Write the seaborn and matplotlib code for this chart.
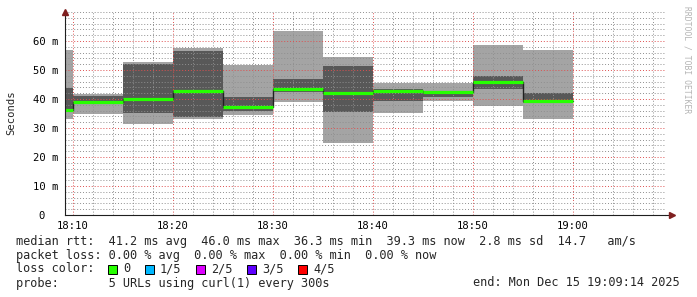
import matplotlib
matplotlib.use("Agg")
import matplotlib.pyplot as plt
from matplotlib.patches import Rectangle
from matplotlib.ticker import FixedLocator, MultipleLocator
import seaborn as sns
import pandas as pd

# ---- data (ms), one 5-minute slot each ----
slot_start = ["18:05", "18:10", "18:15", "18:20", "18:25", "18:30",
              "18:35", "18:40", "18:45", "18:50", "18:55"]
ping_min = [33.1, 34.9, 31.4, 33.1, 34.5, 39.1, 24.9, 35.3, 39.4, 37.7, 33.2]
ping_2nd = [35.7, 38.3, 35.3, 33.7, 35.9, 42.4, 35.6, 39.2, 40.8, 43.6, 38.6]
median = [36.3, 39.0, 40.0, 42.6, 37.1, 43.6, 41.9, 42.8, 42.5, 46.0, 39.3]
ping_4th = [43.8, 40.9, 52.2, 56.6, 40.7, 47.0, 51.4, 43.3, 42.9, 47.9, 42.1]
ping_max = [56.9, 41.7, 52.6, 57.7, 51.8, 63.6, 54.6, 45.6, 45.6, 58.6, 56.9]

x_ticklabels = ["18:10", "18:20", "18:30", "18:40", "18:50", "19:00"]
y_ticklabels = ["0  ", "10 m", "20 m", "30 m", "40 m", "50 m", "60 m"]

legend_lines = [
    "median rtt:  41.2 ms avg  46.0 ms max  36.3 ms min  39.3 ms now  2.8 ms sd  14.7   am/s",
    "packet loss: 0.00 % avg  0.00 % max  0.00 % min  0.00 % now",
]
loss_labels = ["0", "1/5", "2/5", "3/5", "4/5"]
loss_colors = ["#26ff00", "#00b8ff", "#dd00ff", "#5e00ff", "#ff0000"]
probe_text = "probe:       5 URLs using curl(1) every 300s"
end_text = "end: Mon Dec 15 19:09:14 2025"

SLOT = 5  # minutes per slot
view_start = 9 + 14 / 60.0   # 18:09:14
view_end = 69 + 14 / 60.0    # 19:09:14


def to_min(s):
    h, m = s.split(":")
    return (int(h) - 18) * 60 + int(m)


starts = [to_min(s) for s in slot_start]
ends = [s + SLOT for s in starts]
x_ext = starts + [ends[-1]]


def ext(v):
    return list(v) + [v[-1]]


df = pd.DataFrame({"t": x_ext, "median": ext(median)})

sns.set_style("white")
plt.rcParams["font.family"] = ["DejaVu Sans Mono", "DejaVu Sans"]

W, H = 697, 297
fig = plt.figure(figsize=(W / 100, H / 100), dpi=100)
fig.patch.set_facecolor("white")
ax = fig.add_axes([65.3 / W, 82 / H, 600 / W, 203 / H])
ax.set_facecolor("white")

light = "#a4a4a4"
dark = "#585858"
ax.fill_between(x_ext, ext(ping_min), ext(ping_max), step="post",
                color=light, lw=0, zorder=1)
ax.fill_between(x_ext, ext(ping_2nd), ext(ping_4th), step="post",
                color=dark, lw=0, zorder=1.1)

sns.lineplot(data=df, x="t", y="median", drawstyle="steps-post",
             color="#202020", lw=1.0, estimator=None, ax=ax, zorder=3)
ax.hlines(median, starts, ends, color=loss_colors[0], lw=2.3, zorder=4)

ax.set_xlim(view_start, view_end)
ax.set_ylim(0, 70)

ax.xaxis.set_major_locator(FixedLocator([10, 20, 30, 40, 50, 60]))
ax.set_xticklabels(x_ticklabels)
ax.xaxis.set_minor_locator(MultipleLocator(2))
ax.yaxis.set_major_locator(FixedLocator([0, 10, 20, 30, 40, 50, 60]))
ax.set_yticklabels(y_ticklabels)
ax.yaxis.set_minor_locator(MultipleLocator(2))

ax.set_axisbelow(False)
ax.grid(which="minor", color=(0.56, 0.56, 0.56, 0.28), lw=0.7,
        linestyle=(0, (1, 2)))
ax.grid(which="major", color=(0.87, 0.31, 0.31, 0.4), lw=0.7,
        linestyle=(0, (1, 2)))

ax.tick_params(axis="both", which="both", length=0, labelsize=7.6,
               colors="black")
ax.tick_params(axis="x", pad=4)
ax.tick_params(axis="y", pad=5)
ax.set_xlabel("")
ax.set_ylabel("")

for side in ["top", "right"]:
    ax.spines[side].set_visible(False)
for side in ["left", "bottom"]:
    ax.spines[side].set_color("#1f1f1f")
    ax.spines[side].set_linewidth(0.8)
    ax.spines[side].set_zorder(5)

# axis arrows
arrow_col = "#7f1f1f"
ax.plot([0], [1.0], marker="^", markersize=4.5, color=arrow_col,
        transform=ax.transAxes, clip_on=False, zorder=6)
ax.plot([1.0, 1.008], [0, 0], color="#1f1f1f", lw=0.8,
        transform=ax.transAxes, clip_on=False, zorder=5)
ax.plot([1.011], [0], marker=">", markersize=4.5, color=arrow_col,
        transform=ax.transAxes, clip_on=False, zorder=6)

# y label
fig.text(11 / W, 1 - 113 / H, "Seconds", rotation=90, ha="center",
         va="center", fontsize=7.6)

# watermark
fig.text(687 / W, 1 - 60 / H, "RRDTOOL / TOBI OETIKER", rotation=270,
         ha="center", va="center", fontsize=5.8, color="#b4b4b4")

# legend text
fs = 8.55
line_y = [241, 255, 269, 283]
for txt, yy in zip(legend_lines, line_y[:2]):
    fig.text(16 / W, 1 - yy / H, txt, ha="left", va="center", fontsize=fs)
fig.text(16 / W, 1 - line_y[2] / H, "loss color:", ha="left",
         va="center", fontsize=fs)
box_x = [108, 145, 196, 247, 298]
for bx, lab, col in zip(box_x, loss_labels, loss_colors):
    fig.add_artist(Rectangle((bx / W, 1 - (line_y[2] + 4.5) / H), 9 / W,
                             9 / H, transform=fig.transFigure,
                             facecolor=col, edgecolor="black", lw=0.7))
    fig.text((bx + 15) / W, 1 - line_y[2] / H, lab, ha="left",
             va="center", fontsize=fs)
fig.text(16 / W, 1 - line_y[3] / H, probe_text, ha="left", va="center",
         fontsize=fs)
fig.text(680 / W, 1 - line_y[3] / H, end_text, ha="right", va="center",
         fontsize=fs)

fig.savefig("out.png", dpi=100, facecolor="white")
